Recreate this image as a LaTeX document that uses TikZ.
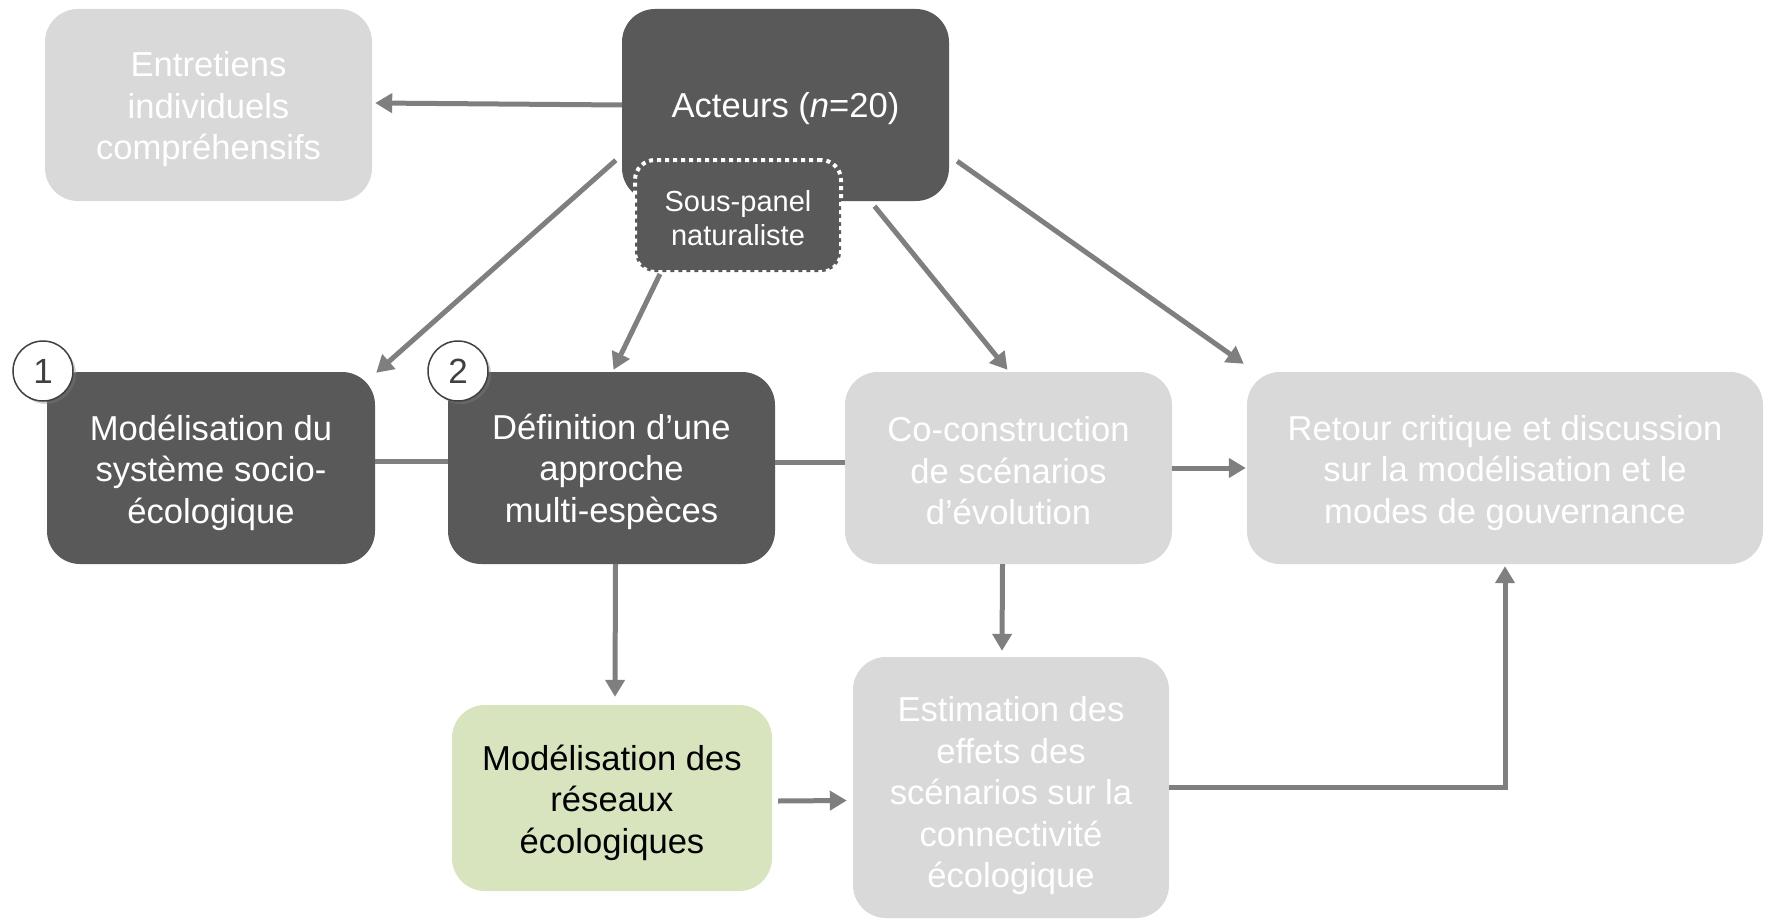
\documentclass[tikz,border=0pt]{standalone}
\usepackage{fontspec}
\setmainfont{Liberation Sans}
\usetikzlibrary{calc,arrows.meta,shadows}
\definecolor{darkbox}{HTML}{595959}
\definecolor{lightbox}{HTML}{D9D9D9}
\definecolor{greenbox}{HTML}{D7E4BD}
\definecolor{arrowgray}{HTML}{7F7F7F}
\definecolor{circline}{HTML}{404040}
\newcommand{\lowered}[2]{\raisebox{-#1}[\height][\depth]{\begin{tabular}{@{}c@{}}#2\end{tabular}}}
\tikzset{
  box/.style={rectangle, rounded corners=33pt, inner sep=0pt,
    font=\fontsize{34.6}{41.5}\selectfont},
  darkb/.style={box, fill=darkbox, text=white},
  lightb/.style={box, fill=lightbox, text=white},
  greenb/.style={box, fill=greenbox, text=black},
  subpanel/.style={rectangle, rounded corners=20pt, inner sep=0pt,
    fill=darkbox, text=white, draw=white, line width=4pt, dash pattern=on 4pt off 4pt,
    font=\fontsize{29}{34}\selectfont},
  numcirc/.style={circle, fill=white, draw=circline, line width=1.5pt, minimum size=60pt,
    inner sep=0pt, text=circline, font=\fontsize{35}{35}\selectfont,
    drop shadow={shadow xshift=3pt, shadow yshift=-3pt, opacity=0.35}},
  conn/.style={draw=arrowgray, line width=5pt},
  arr/.style={conn, -{Triangle[length=17pt,width=19pt]}},
}
\begin{document}
\begin{tikzpicture}[x=1pt,y=-1pt]
\useasboundingbox (0,0) rectangle (1769,923);
\node[lightb, minimum width=327pt, minimum height=192pt] (ent) at (208.5,105) {\lowered{5.2pt}{Entretiens\\individuels\\compréhensifs}};
\node[darkb, minimum width=327pt, minimum height=192pt] (act) at (785.5,105) {\lowered{4pt}{Acteurs (\textit{n}=20)}};
\node[subpanel, minimum width=206pt, minimum height=112pt] (sp) at (738,216) {\lowered{6pt}{Sous-panel\\naturaliste}};
\node[darkb, minimum width=328pt, minimum height=192pt] (b1) at (211,468) {\lowered{5.2pt}{Modélisation du\\système socio-\\écologique}};
\node[darkb, minimum width=327pt, minimum height=192pt] (b2) at (611.5,468) {\lowered{4.5pt}{Définition d’une\\approche\\multi-espèces}};
\node[lightb, minimum width=327pt, minimum height=192pt] (co) at (1008.5,468) {\lowered{6.8pt}{Co-construction\\de scénarios\\d’évolution}};
\node[lightb, minimum width=516pt, minimum height=192pt] (ret) at (1505,468) {\lowered{5.2pt}{Retour critique et discussion\\sur la modélisation et le\\modes de gouvernance}};
\node[greenb, minimum width=320pt, minimum height=186pt] (gr) at (612,798) {\lowered{5.2pt}{Modélisation des\\réseaux\\écologiques}};
\node[lightb, minimum width=316pt, minimum height=261pt] (est) at (1011,787.5) {\lowered{8.7pt}{Estimation des\\effets des\\scénarios sur la\\connectivité\\écologique}};
\node[numcirc] (c1) at (43,371) {1};
\node[numcirc] (c2) at (458,371) {2};
% connectors
\draw[arr] (act.west) -- ($(ent.east)+(3,-2)$);
\draw[arr] ($(act.south west)+(-6,-41)$) -- ($(b1.north east)+(1,1)$);
\draw[arr] ($(sp.south west)+(27,0)$) -- ($(b2.north)+(2,-2)$);
\draw[arr] ($(act.south)+(89,5)$) -- ($(co.north)+(-1,-2)$);
\draw[arr] ($(act.south east)+(8,-40)$) -- ($(ret.north west)+(-3,-8)$);
\draw[conn] ($(b1.east)+(0,-7)$) -- ($(b2.west)+(0,-7)$);
\draw[conn] ($(b2.east)+(0,-6)$) -- ($(co.west)+(0,-6)$);
\draw[arr] (co.east) -- ($(ret.west)+(-1,0)$);
\draw[arr] ($(b2.south)+(4,0)$) -- ($(gr.north)+(3,-8)$);
\draw[arr] ($(co.south)+(-6,0)$) -- ($(est.north)+(-9,-6)$);
\draw[arr] ($(gr.east)+(6,3)$) -- ($(est.west)+(-6,13)$);
\draw[arr] (est.east) -| ($(ret.south)+(0,2)$);
\end{tikzpicture}
\end{document}
